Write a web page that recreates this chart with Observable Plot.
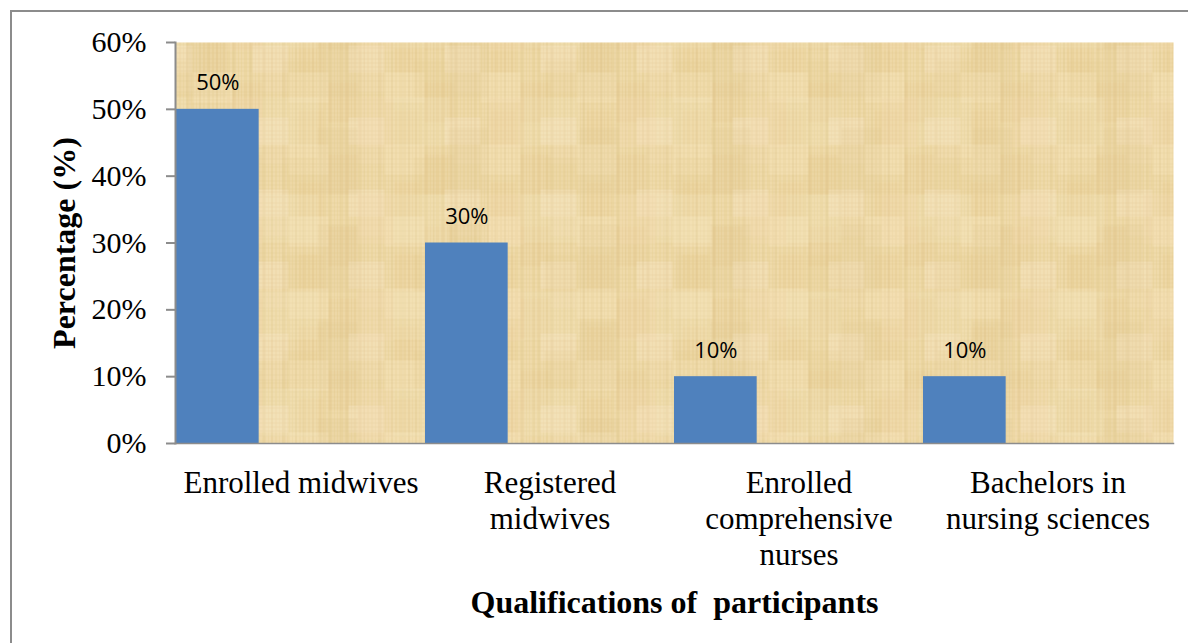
<!DOCTYPE html>
<html>
<head>
<meta charset="utf-8">
<script src="https://cdn.jsdelivr.net/npm/d3@7"></script>
<script src="https://cdn.jsdelivr.net/npm/@observablehq/plot@0.6"></script>
<style>
  body { margin: 0; background: #fff; }
  #wrap { position: relative; width: 1188px; height: 643px; overflow: hidden; }
  #edge { position: absolute; left: 10px; top: 10px; right: -4px; bottom: -4px;
          border-top: 2px solid #8c8c8c; border-left: 2px solid #8c8c8c; pointer-events: none; }
  #wrap svg text { white-space: pre; }
</style>
</head>
<body>
<div id="wrap"><div id="edge"></div></div>
<script>
// Qualifications of participants (share of respondents)
const categories = ["Enrolled midwives", "Registered midwives", "Enrolled comprehensive nurses", "Bachelors in nursing sciences"];
const tickLabels = ["Enrolled midwives", "Registered\nmidwives", "Enrolled\ncomprehensive\nnurses", "Bachelors in\nnursing sciences"];
const percentages = [0.50, 0.30, 0.10, 0.10];
const yTicks = [0, 0.1, 0.2, 0.3, 0.4, 0.5, 0.6];
const yTitle = "Percentage (%)";
const xTitle = "Qualifications of  participants";

const rows = categories.map((c, i) => ({category: c, value: percentages[i]}));

const W = 1188, H = 643;
const margin = {top: 42, right: 15, bottom: 200, left: 175};
const band = (W - margin.left - margin.right) / categories.length;
const pct = d3.format(".0%");
const axisGrey = "#8c8c8c";

const chart = Plot.plot({
  width: W,
  height: H,
  marginTop: margin.top,
  marginRight: margin.right,
  marginBottom: margin.bottom,
  marginLeft: margin.left,
  style: {fontFamily: "Liberation Serif, Times New Roman, serif", background: "#fff", color: "#000"},
  x: {domain: categories, padding: 0},
  y: {domain: [0, 0.6]},
  marks: [
    // papyrus-textured plot area
    Plot.frame({fill: "url(#papyrus)", stroke: null}),
    Plot.frame({fill: "url(#papyrus2)", stroke: null}),
    // each bar takes the first third of its category slot
    Plot.barY(rows, {x: "category", y: "value", fill: "#4f81bd", insetRight: band * 2 / 3}),
    Plot.text(rows, {
      x: "category", y: "value", text: d => pct(d.value),
      dx: -band / 3, dy: -19, lineAnchor: "bottom",
      fontFamily: "Open Sans, sans-serif", fontSize: 22, fill: "#000"
    }),
    Plot.axisY({ticks: yTicks, tickFormat: pct, tickSize: 9, tickPadding: 20, stroke: axisGrey, strokeWidth: 2, fontSize: 30, label: null}),
    Plot.axisX({tickSize: 0, tickPadding: 24, fontSize: 31, lineHeight: 1.16, lineAnchor: "top",
      tickFormat: d => tickLabels[categories.indexOf(d)], label: null}),
    Plot.frame({anchor: "left", stroke: axisGrey, strokeWidth: 2}),
    Plot.frame({anchor: "bottom", stroke: axisGrey, strokeWidth: 1.5}),
    Plot.text([yTitle], {frameAnchor: "left", textAnchor: "middle", lineAnchor: "middle", rotate: -90,
      dx: -111, fontWeight: "bold", fontSize: 32}),
    Plot.text([xTitle], {frameAnchor: "bottom", textAnchor: "middle", dy: 169, lineAnchor: "bottom",
      fontWeight: "bold", fontSize: 32})
  ]
});

// Texture tiles for the plot background
const defs = d3.create("svg:defs");
const p1 = defs.append("pattern").attr("id", "papyrus").attr("patternUnits", "userSpaceOnUse")
  .attr("width", 96).attr("height", 72);
p1.append("rect").attr("width", 96).attr("height", 72).attr("fill", "#ecd6a1");
const patches = [
  [0, 0, 40, 30, "#f3e2b8", 0.35], [40, 10, 30, 40, "#e3c98a", 0.25], [60, 45, 36, 27, "#f5e4c4", 0.35],
  [10, 38, 25, 34, "#e6cd90", 0.25], [70, 0, 26, 20, "#f0dcb2", 0.3]
];
for (const [x, y, w, h, c, o] of patches)
  p1.append("rect").attr("x", x).attr("y", y).attr("width", w).attr("height", h).attr("fill", c).attr("opacity", o);
for (const x of [2, 5, 9, 13, 18, 22, 26, 29, 33, 38, 44, 47, 50, 55, 61, 64, 68, 74, 77, 81, 85, 88, 93])
  p1.append("line").attr("x1", x + 0.5).attr("x2", x + 0.5).attr("y1", 0).attr("y2", 72)
    .attr("stroke", "#faeed0").attr("stroke-opacity", 0.35);
for (const x of [7, 24, 41, 58, 71, 90])
  p1.append("line").attr("x1", x + 0.5).attr("x2", x + 0.5).attr("y1", 0).attr("y2", 72)
    .attr("stroke", "#cdb47c").attr("stroke-opacity", 0.18);
for (const y of [3, 8, 14, 19, 22, 27, 31, 36, 40, 44, 47, 52, 58, 62, 66, 70])
  p1.append("line").attr("y1", y + 0.5).attr("y2", y + 0.5).attr("x1", 0).attr("x2", 96)
    .attr("stroke", "#d4bb80").attr("stroke-opacity", 0.18);
const p2 = defs.append("pattern").attr("id", "papyrus2").attr("patternUnits", "userSpaceOnUse")
  .attr("width", 131).attr("height", 97);
const patches2 = [
  [0, 0, 55, 48, "#f6e7c3", 0.18], [55, 30, 40, 67, "#dcc282", 0.12], [95, 0, 36, 50, "#f3ddb6", 0.2],
  [20, 60, 35, 37, "#e2c788", 0.12]
];
for (const [x, y, w, h, c, o] of patches2)
  p2.append("rect").attr("x", x).attr("y", y).attr("width", w).attr("height", h).attr("fill", c).attr("opacity", o);
for (const x of [9, 22, 40, 58, 77, 101, 118])
  p2.append("line").attr("x1", x + 0.5).attr("x2", x + 0.5).attr("y1", 0).attr("y2", 97)
    .attr("stroke", "#cfb47a").attr("stroke-opacity", 0.15);
chart.insertBefore(defs.node(), chart.firstChild);

document.getElementById("wrap").prepend(chart);
</script>
</body>
</html>
